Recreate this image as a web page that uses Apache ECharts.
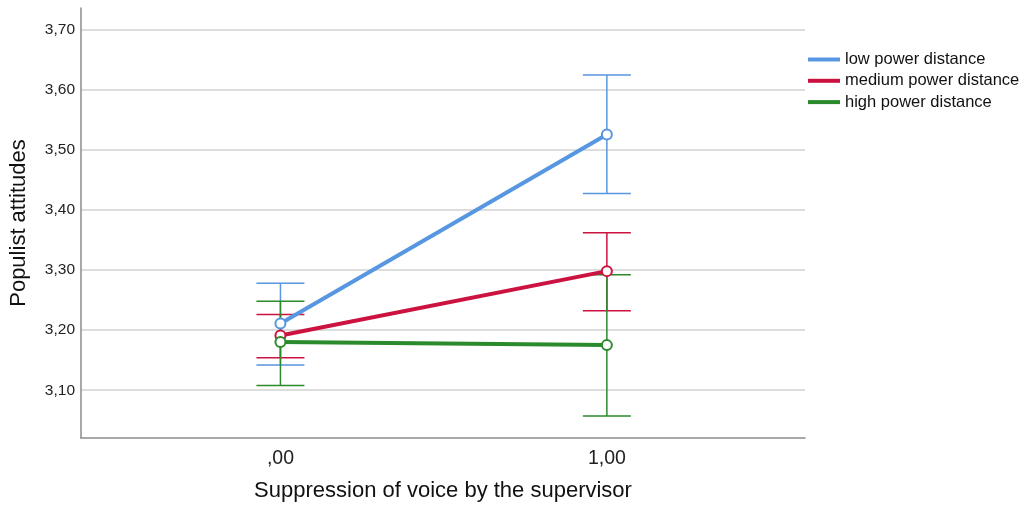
<!DOCTYPE html>
<html>
<head>
<meta charset="utf-8">
<title>Populist attitudes</title>
<script src="https://cdn.jsdelivr.net/npm/echarts@6/dist/echarts.min.js"></script>
<style>
  html, body { margin: 0; padding: 0; background: #fff; }
  #chart { width: 1026px; height: 512px; }
</style>
</head>
<body>
<div id="chart"></div>
<script>
// x positions (suppression of voice) and tick labels
const xValues = [0, 1]
const xTickLabels = { 0: ',00', 1: '1,00' }

const groupNames = ['low power distance', 'medium power distance', 'high power distance']
const groupColors = ['#5796e0', '#cc1240', '#2b8a2b']

// means per group, at x = 0 and x = 1
const lowMeans = [3.211, 3.525]
const mediumMeans = [3.191, 3.298]
const highMeans = [3.180, 3.175]

// error bar bounds [lower, upper]
const lowBars = [[3.142, 3.278], [3.427, 3.624]]
const mediumBars = [[3.154, 3.226], [3.232, 3.362]]
const highBars = [[3.108, 3.248], [3.057, 3.292]]

const allMeans = [lowMeans, mediumMeans, highMeans]
const allBars = [lowBars, mediumBars, highBars]

const chart = echarts.init(document.getElementById('chart'))

// 误差线：竖线 + 上下两条横线
const renderErrorBar = (params, api) => {
  const x = api.value(0)
  const top = api.coord([x, api.value(2)])
  const bottom = api.coord([x, api.value(1)])
  const half = 24
  const style = { stroke: api.visual('color'), lineWidth: 1.5 }
  return {
    type: 'group',
    children: [
      { type: 'line', shape: { x1: top[0], y1: top[1], x2: bottom[0], y2: bottom[1] }, style },
      { type: 'line', shape: { x1: top[0] - half, y1: top[1], x2: top[0] + half, y2: top[1] }, style },
      { type: 'line', shape: { x1: bottom[0] - half, y1: bottom[1], x2: bottom[0] + half, y2: bottom[1] }, style }
    ]
  }
}

const series = []
groupNames.forEach((name, i) => {
  series.push({
    type: 'custom',
    renderItem: renderErrorBar,
    itemStyle: { color: groupColors[i] },
    data: xValues.map((x, j) => [x, allBars[i][j][0], allBars[i][j][1]]),
    z: 2,
    silent: true
  })
})
groupNames.forEach((name, i) => {
  series.push({
    name: name,
    type: 'line',
    data: xValues.map((x, j) => [x, allMeans[i][j]]),
    color: groupColors[i],
    lineStyle: { width: 4, color: groupColors[i] },
    symbol: 'emptyCircle',
    symbolSize: 10,
    itemStyle: { color: groupColors[i], borderWidth: 1.5 },
    z: 3
  })
})

const option = {
  animation: false,
  backgroundColor: '#fff',
  textStyle: { fontFamily: 'Liberation Sans, Arial, sans-serif' },
  grid: { left: 79, right: 221, top: 8, bottom: 74, containLabel: false },
  legend: {
    data: groupNames,
    orient: 'vertical',
    left: 808,
    top: 51,
    padding: 0,
    icon: 'rect',
    itemWidth: 32,
    itemHeight: 4,
    itemGap: 4.3,
    textStyle: { fontSize: 16.5, color: '#111', lineHeight: 16 }
  },
  xAxis: {
    type: 'value',
    min: -0.611,
    max: 1.607,
    splitLine: { show: false },
    axisTick: { show: false },
    axisLine: { lineStyle: { color: '#8c8c8c', width: 1.5 } },
    axisLabel: {
      fontSize: 19.5,
      color: '#222',
      margin: 11,
      showMinLabel: false,
      showMaxLabel: false,
      formatter: (v) => xTickLabels[v] !== undefined ? xTickLabels[v] : ''
    },
    name: 'Suppression of voice by the supervisor',
    nameLocation: 'middle',
    nameGap: 42,
    nameTextStyle: { fontSize: 22, color: '#111' }
  },
  yAxis: {
    type: 'value',
    min: 3.0206,
    max: 3.7354,
    minInterval: 0.1,
    maxInterval: 0.1,
    axisLine: { show: true, onZero: false, lineStyle: { color: '#8c8c8c', width: 1.5 } },
    axisTick: { show: false },
    splitLine: {
      show: true,
      showMinLine: false,
      showMaxLine: false,
      lineStyle: { color: '#d2d2d2', width: 1.5 }
    },
    axisLabel: {
      fontSize: 15.5,
      color: '#222',
      margin: 6,
      showMinLabel: false,
      showMaxLabel: false,
      formatter: (v) => v.toFixed(2).replace('.', ',')
    },
    name: 'Populist attitudes',
    nameLocation: 'middle',
    nameGap: 51,
    nameTextStyle: { fontSize: 22, color: '#111' }
  },
  series: series
}

chart.setOption(option)
</script>
</body>
</html>
